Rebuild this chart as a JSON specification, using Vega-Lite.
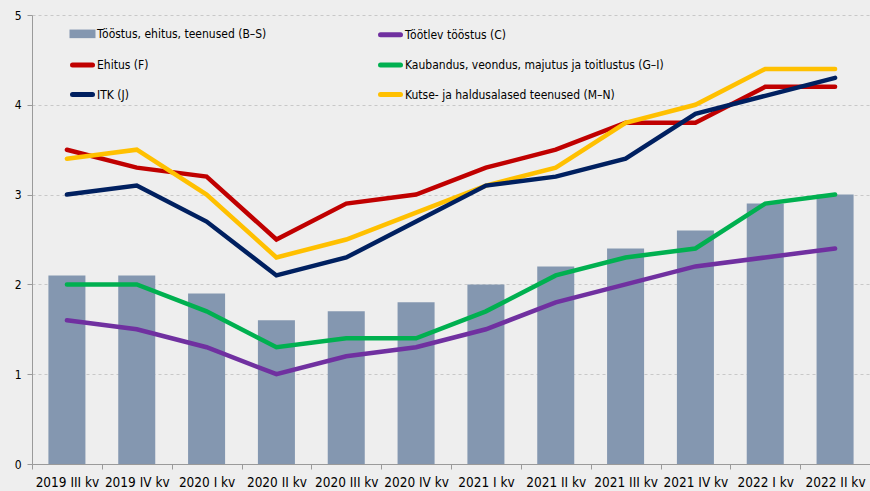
{
  "$schema": "https://vega.github.io/schema/vega-lite/v6.json",
  "autosize": {"type": "none"},
  "padding": {"left": 32, "top": 15, "right": 0, "bottom": 27},
  "width": 838,
  "height": 449,
  "background": "#eeeeee",
  "config": {
    "view": {"stroke": null},
    "font": "DejaVu Sans Condensed",
    "axis": {"labelFont": "DejaVu Sans Condensed", "labelColor": "#000000", "domainColor": "#9a9a9a", "tickColor": "#9a9a9a"}
  },
  "datasets": {
    "d": [
      {"q": "2019 III kv", "s": "Tööstus, ehitus, teenused (B–S)", "v": 2.1},
      {"q": "2019 IV kv", "s": "Tööstus, ehitus, teenused (B–S)", "v": 2.1},
      {"q": "2020 I kv", "s": "Tööstus, ehitus, teenused (B–S)", "v": 1.9},
      {"q": "2020 II kv", "s": "Tööstus, ehitus, teenused (B–S)", "v": 1.6},
      {"q": "2020 III kv", "s": "Tööstus, ehitus, teenused (B–S)", "v": 1.7},
      {"q": "2020 IV kv", "s": "Tööstus, ehitus, teenused (B–S)", "v": 1.8},
      {"q": "2021 I kv", "s": "Tööstus, ehitus, teenused (B–S)", "v": 2.0},
      {"q": "2021 II kv", "s": "Tööstus, ehitus, teenused (B–S)", "v": 2.2},
      {"q": "2021 III kv", "s": "Tööstus, ehitus, teenused (B–S)", "v": 2.4},
      {"q": "2021 IV kv", "s": "Tööstus, ehitus, teenused (B–S)", "v": 2.6},
      {"q": "2022 I kv", "s": "Tööstus, ehitus, teenused (B–S)", "v": 2.9},
      {"q": "2022 II kv", "s": "Tööstus, ehitus, teenused (B–S)", "v": 3.0},

      {"q": "2019 III kv", "s": "Töötlev tööstus  (C)", "v": 1.6},
      {"q": "2019 IV kv", "s": "Töötlev tööstus  (C)", "v": 1.5},
      {"q": "2020 I kv", "s": "Töötlev tööstus  (C)", "v": 1.3},
      {"q": "2020 II kv", "s": "Töötlev tööstus  (C)", "v": 1.0},
      {"q": "2020 III kv", "s": "Töötlev tööstus  (C)", "v": 1.2},
      {"q": "2020 IV kv", "s": "Töötlev tööstus  (C)", "v": 1.3},
      {"q": "2021 I kv", "s": "Töötlev tööstus  (C)", "v": 1.5},
      {"q": "2021 II kv", "s": "Töötlev tööstus  (C)", "v": 1.8},
      {"q": "2021 III kv", "s": "Töötlev tööstus  (C)", "v": 2.0},
      {"q": "2021 IV kv", "s": "Töötlev tööstus  (C)", "v": 2.2},
      {"q": "2022 I kv", "s": "Töötlev tööstus  (C)", "v": 2.3},
      {"q": "2022 II kv", "s": "Töötlev tööstus  (C)", "v": 2.4},

      {"q": "2019 III kv", "s": "Ehitus (F)", "v": 3.5},
      {"q": "2019 IV kv", "s": "Ehitus (F)", "v": 3.3},
      {"q": "2020 I kv", "s": "Ehitus (F)", "v": 3.2},
      {"q": "2020 II kv", "s": "Ehitus (F)", "v": 2.5},
      {"q": "2020 III kv", "s": "Ehitus (F)", "v": 2.9},
      {"q": "2020 IV kv", "s": "Ehitus (F)", "v": 3.0},
      {"q": "2021 I kv", "s": "Ehitus (F)", "v": 3.3},
      {"q": "2021 II kv", "s": "Ehitus (F)", "v": 3.5},
      {"q": "2021 III kv", "s": "Ehitus (F)", "v": 3.8},
      {"q": "2021 IV kv", "s": "Ehitus (F)", "v": 3.8},
      {"q": "2022 I kv", "s": "Ehitus (F)", "v": 4.2},
      {"q": "2022 II kv", "s": "Ehitus (F)", "v": 4.2},

      {"q": "2019 III kv", "s": "Kaubandus, veondus, majutus ja toitlustus (G–I)", "v": 2.0},
      {"q": "2019 IV kv", "s": "Kaubandus, veondus, majutus ja toitlustus (G–I)", "v": 2.0},
      {"q": "2020 I kv", "s": "Kaubandus, veondus, majutus ja toitlustus (G–I)", "v": 1.7},
      {"q": "2020 II kv", "s": "Kaubandus, veondus, majutus ja toitlustus (G–I)", "v": 1.3},
      {"q": "2020 III kv", "s": "Kaubandus, veondus, majutus ja toitlustus (G–I)", "v": 1.4},
      {"q": "2020 IV kv", "s": "Kaubandus, veondus, majutus ja toitlustus (G–I)", "v": 1.4},
      {"q": "2021 I kv", "s": "Kaubandus, veondus, majutus ja toitlustus (G–I)", "v": 1.7},
      {"q": "2021 II kv", "s": "Kaubandus, veondus, majutus ja toitlustus (G–I)", "v": 2.1},
      {"q": "2021 III kv", "s": "Kaubandus, veondus, majutus ja toitlustus (G–I)", "v": 2.3},
      {"q": "2021 IV kv", "s": "Kaubandus, veondus, majutus ja toitlustus (G–I)", "v": 2.4},
      {"q": "2022 I kv", "s": "Kaubandus, veondus, majutus ja toitlustus (G–I)", "v": 2.9},
      {"q": "2022 II kv", "s": "Kaubandus, veondus, majutus ja toitlustus (G–I)", "v": 3.0},

      {"q": "2019 III kv", "s": "Kutse- ja haldusalased teenused (M–N)", "v": 3.4},
      {"q": "2019 IV kv", "s": "Kutse- ja haldusalased teenused (M–N)", "v": 3.5},
      {"q": "2020 I kv", "s": "Kutse- ja haldusalased teenused (M–N)", "v": 3.0},
      {"q": "2020 II kv", "s": "Kutse- ja haldusalased teenused (M–N)", "v": 2.3},
      {"q": "2020 III kv", "s": "Kutse- ja haldusalased teenused (M–N)", "v": 2.5},
      {"q": "2020 IV kv", "s": "Kutse- ja haldusalased teenused (M–N)", "v": 2.8},
      {"q": "2021 I kv", "s": "Kutse- ja haldusalased teenused (M–N)", "v": 3.1},
      {"q": "2021 II kv", "s": "Kutse- ja haldusalased teenused (M–N)", "v": 3.3},
      {"q": "2021 III kv", "s": "Kutse- ja haldusalased teenused (M–N)", "v": 3.8},
      {"q": "2021 IV kv", "s": "Kutse- ja haldusalased teenused (M–N)", "v": 4.0},
      {"q": "2022 I kv", "s": "Kutse- ja haldusalased teenused (M–N)", "v": 4.4},
      {"q": "2022 II kv", "s": "Kutse- ja haldusalased teenused (M–N)", "v": 4.4},

      {"q": "2019 III kv", "s": "ITK (J)", "v": 3.0},
      {"q": "2019 IV kv", "s": "ITK (J)", "v": 3.1},
      {"q": "2020 I kv", "s": "ITK (J)", "v": 2.7},
      {"q": "2020 II kv", "s": "ITK (J)", "v": 2.1},
      {"q": "2020 III kv", "s": "ITK (J)", "v": 2.3},
      {"q": "2020 IV kv", "s": "ITK (J)", "v": 2.7},
      {"q": "2021 I kv", "s": "ITK (J)", "v": 3.1},
      {"q": "2021 II kv", "s": "ITK (J)", "v": 3.2},
      {"q": "2021 III kv", "s": "ITK (J)", "v": 3.4},
      {"q": "2021 IV kv", "s": "ITK (J)", "v": 3.9},
      {"q": "2022 I kv", "s": "ITK (J)", "v": 4.1},
      {"q": "2022 II kv", "s": "ITK (J)", "v": 4.3}
    ]
  },
  "data": {"name": "d"},
  "encoding": {
    "x": {
      "field": "q", "type": "nominal", "sort": null, "title": null,
      "scale": {"paddingInner": 0, "paddingOuter": 0},
      "axis": {"labelAngle": 0, "labelFontSize": 13.5, "tickSize": 5, "labelPadding": 6, "tickBand": "extent", "grid": false, "domainColor": "#9a9a9a"}
    },
    "y": {
      "field": "v", "type": "quantitative", "title": null,
      "scale": {"domain": [0, 5], "nice": false},
      "axis": {"values": [0, 1, 2, 3, 4, 5], "labelFontSize": 12, "tickSize": 5, "labelPadding": 6, "grid": true, "gridDash": [3, 3], "gridColor": "#c8c8c8", "domainColor": "#9a9a9a"}
    },
    "color": {
      "field": "s", "type": "nominal", "title": null,
      "scale": {
        "domain": ["Tööstus, ehitus, teenused (B–S)", "Ehitus (F)", "ITK (J)", "Töötlev tööstus  (C)", "Kaubandus, veondus, majutus ja toitlustus (G–I)", "Kutse- ja haldusalased teenused (M–N)"],
        "range": ["#8497b0", "#c00000", "#002060", "#7030a0", "#00b050", "#ffc000"]
      },
      "legend": {
        "orient": "none", "legendX": 38, "legendY": 6, "columns": 2, "padding": 0,
        "columnPadding": 103, "rowPadding": 6.5, "symbolType": "stroke", "symbolSize": 400,
        "symbolStrokeWidth": 5, "labelFontSize": 12, "labelFont": "DejaVu Sans Condensed", "labelOffset": 2, "labelLimit": 400,
        "labelColor": "#000000",
        "encode": {
          "symbols": {
            "update": {
              "shape": {"signal": "datum.value === 'Tööstus, ehitus, teenused (B–S)' ? 'M-1.05,-0.18H1.05V0.18H-1.05Z' : 'stroke'"},
              "fill": {"signal": "datum.value === 'Tööstus, ehitus, teenused (B–S)' ? '#8497b0' : 'transparent'"},
              "stroke": {"signal": "datum.value === 'Tööstus, ehitus, teenused (B–S)' ? 'transparent' : scale('color', datum.value)"},
              "strokeWidth": {"value": 5},
              "strokeCap": {"value": "round"},
              "opacity": {"value": 1}
            }
          }
        }
      }
    }
  },
  "layer": [
    {
      "transform": [{"filter": "datum.s === 'Tööstus, ehitus, teenused (B–S)'"}],
      "mark": {"type": "bar", "width": {"band": 0.53}, "opacity": 1}
    },
    {
      "transform": [{"filter": "datum.s !== 'Tööstus, ehitus, teenused (B–S)'"}],
      "mark": {"type": "line", "strokeWidth": 4.5, "strokeCap": "round"}
    }
  ]
}
